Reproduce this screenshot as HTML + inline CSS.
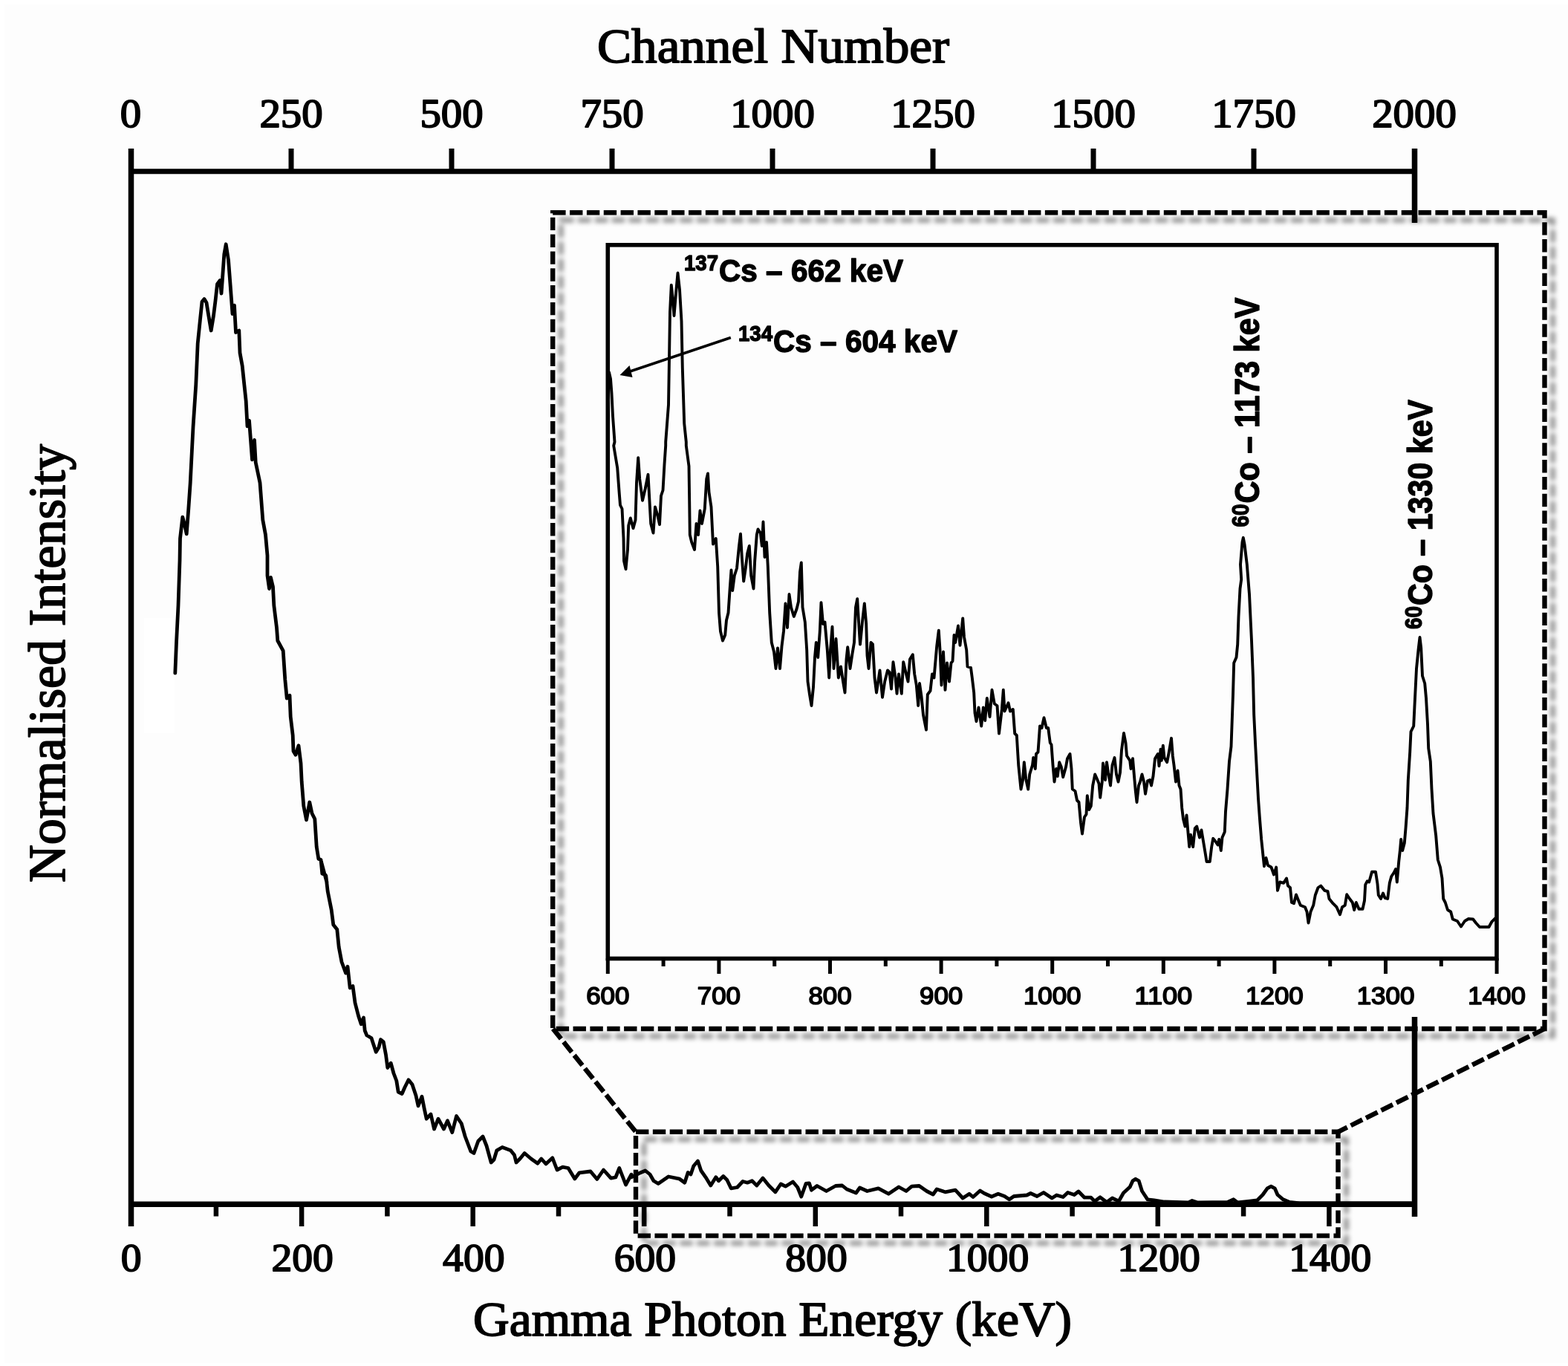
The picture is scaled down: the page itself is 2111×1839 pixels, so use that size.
<!DOCTYPE html>
<html lang="en"><head><meta charset="utf-8"><title>Gamma spectrum</title>
<style>html,body{margin:0;padding:0;background:#fdfdfd;}body{width:2111px;height:1839px;overflow:hidden;}svg{display:block;}.s{font-family:'Liberation Serif', serif;fill:#000;stroke:#000;stroke-width:1.8px;stroke-linejoin:round;}.b{font-family:'Liberation Sans', sans-serif;font-weight:bold;fill:#000;stroke:#000;stroke-width:1.4px;stroke-linejoin:round;}.t{font-weight:normal;stroke-width:1.7px;}</style></head><body>
<svg width="2111" height="1839" viewBox="0 0 2111 1839">
<defs><filter id="sh" filterUnits="userSpaceOnUse" x="700" y="250" width="1411" height="1480"><feGaussianBlur in="SourceAlpha" stdDeviation="3.1" result="b"/><feOffset in="b" dx="10.5" dy="10.3" result="ob"/><feComponentTransfer in="ob" result="sb"><feFuncA type="linear" slope="0.44"/></feComponentTransfer><feMerge><feMergeNode in="sb"/><feMergeNode in="SourceGraphic"/></feMerge></filter></defs>
<rect x="0" y="0" width="2111" height="1839" fill="#ffffff"/>
<rect x="6" y="6" width="2105" height="1829" fill="#fdfdfd"/>
<rect x="194" y="832" width="41" height="155" fill="#ffffff"/>
<g stroke="#000" fill="none" stroke-linecap="butt">
<line x1="176.5" y1="200" x2="176.5" y2="1651" stroke-width="7.5"/>
<line x1="173" y1="230.8" x2="1908" y2="230.8" stroke-width="7"/>
<line x1="173" y1="1621.3" x2="1908" y2="1621.3" stroke-width="7.5"/>
<line x1="1904.5" y1="200" x2="1904.5" y2="1638" stroke-width="7.5"/>
<line x1="392.0" y1="200" x2="392.0" y2="231" stroke-width="7"/>
<line x1="608.0" y1="200" x2="608.0" y2="231" stroke-width="7"/>
<line x1="824.0" y1="200" x2="824.0" y2="231" stroke-width="7"/>
<line x1="1040.0" y1="200" x2="1040.0" y2="231" stroke-width="7"/>
<line x1="1256.0" y1="200" x2="1256.0" y2="231" stroke-width="7"/>
<line x1="1472.0" y1="200" x2="1472.0" y2="231" stroke-width="7"/>
<line x1="1688.0" y1="200" x2="1688.0" y2="231" stroke-width="7"/>
<line x1="290.9" y1="1621" x2="290.9" y2="1637.5" stroke-width="6.5"/>
<line x1="406.1" y1="1621" x2="406.1" y2="1651" stroke-width="6.5"/>
<line x1="521.4" y1="1621" x2="521.4" y2="1637.5" stroke-width="6.5"/>
<line x1="636.7" y1="1621" x2="636.7" y2="1651" stroke-width="6.5"/>
<line x1="752.0" y1="1621" x2="752.0" y2="1637.5" stroke-width="6.5"/>
<line x1="867.2" y1="1621" x2="867.2" y2="1651" stroke-width="6.5"/>
<line x1="982.5" y1="1621" x2="982.5" y2="1637.5" stroke-width="6.5"/>
<line x1="1097.8" y1="1621" x2="1097.8" y2="1651" stroke-width="6.5"/>
<line x1="1213.0" y1="1621" x2="1213.0" y2="1637.5" stroke-width="6.5"/>
<line x1="1328.3" y1="1621" x2="1328.3" y2="1651" stroke-width="6.5"/>
<line x1="1443.6" y1="1621" x2="1443.6" y2="1637.5" stroke-width="6.5"/>
<line x1="1558.8" y1="1621" x2="1558.8" y2="1651" stroke-width="6.5"/>
<line x1="1674.1" y1="1621" x2="1674.1" y2="1637.5" stroke-width="6.5"/>
<line x1="1789.4" y1="1621" x2="1789.4" y2="1651" stroke-width="6.5"/>
</g>
<text class="s" x="176.0" y="171" font-size="55" text-anchor="middle" textLength="28.4" lengthAdjust="spacingAndGlyphs">0</text>
<text class="s" x="392.0" y="171" font-size="55" text-anchor="middle" textLength="85.2" lengthAdjust="spacingAndGlyphs">250</text>
<text class="s" x="608.0" y="171" font-size="55" text-anchor="middle" textLength="85.2" lengthAdjust="spacingAndGlyphs">500</text>
<text class="s" x="824.0" y="171" font-size="55" text-anchor="middle" textLength="85.2" lengthAdjust="spacingAndGlyphs">750</text>
<text class="s" x="1040.0" y="171" font-size="55" text-anchor="middle" textLength="113.6" lengthAdjust="spacingAndGlyphs">1000</text>
<text class="s" x="1256.0" y="171" font-size="55" text-anchor="middle" textLength="113.6" lengthAdjust="spacingAndGlyphs">1250</text>
<text class="s" x="1472.0" y="171" font-size="55" text-anchor="middle" textLength="113.6" lengthAdjust="spacingAndGlyphs">1500</text>
<text class="s" x="1688.0" y="171" font-size="55" text-anchor="middle" textLength="113.6" lengthAdjust="spacingAndGlyphs">1750</text>
<text class="s" x="1904.0" y="171" font-size="55" text-anchor="middle" textLength="113.6" lengthAdjust="spacingAndGlyphs">2000</text>
<text class="s" x="176.6" y="1710.8" font-size="53.3" text-anchor="middle" textLength="27.8" lengthAdjust="spacingAndGlyphs">0</text>
<text class="s" x="407.2" y="1710.8" font-size="53.3" text-anchor="middle" textLength="83.4" lengthAdjust="spacingAndGlyphs">200</text>
<text class="s" x="637.8" y="1710.8" font-size="53.3" text-anchor="middle" textLength="83.4" lengthAdjust="spacingAndGlyphs">400</text>
<text class="s" x="868.4" y="1710.8" font-size="53.3" text-anchor="middle" textLength="83.4" lengthAdjust="spacingAndGlyphs">600</text>
<text class="s" x="1099.0" y="1710.8" font-size="53.3" text-anchor="middle" textLength="83.4" lengthAdjust="spacingAndGlyphs">800</text>
<text class="s" x="1329.6" y="1710.8" font-size="53.3" text-anchor="middle" textLength="111.2" lengthAdjust="spacingAndGlyphs">1000</text>
<text class="s" x="1560.2" y="1710.8" font-size="53.3" text-anchor="middle" textLength="111.2" lengthAdjust="spacingAndGlyphs">1200</text>
<text class="s" x="1790.8" y="1710.8" font-size="53.3" text-anchor="middle" textLength="111.2" lengthAdjust="spacingAndGlyphs">1400</text>
<text class="s" x="804" y="84.2" font-size="66.5" textLength="474" lengthAdjust="spacingAndGlyphs">Channel Number</text>
<text class="s" x="637" y="1798" font-size="66" textLength="806" lengthAdjust="spacingAndGlyphs">Gamma Photon Energy (keV)</text>
<text class="s" transform="translate(87.3,1188) rotate(-90)" x="0" y="0" font-size="70.5" textLength="590" lengthAdjust="spacingAndGlyphs">Normalised Intensity</text>
<polyline points="235.8,906.2 237.5,865.0 240.0,815.0 242.0,755.0 242.5,725.0 245.8,696.2 248.2,705.0 251.2,718.8 253.8,685.0 256.2,650.0 260.0,575.0 263.8,517.5 266.2,462.5 269.5,430.0 272.0,406.2 275.0,402.5 278.0,407.5 280.0,420.0 284.2,445.0 287.5,425.0 290.0,405.0 292.5,382.5 296.2,377.5 298.0,395.0 299.5,375.0 301.8,342.5 304.2,328.8 307.5,350.0 310.0,382.5 313.0,422.5 315.5,411.2 317.5,447.5 321.8,445.0 323.0,475.0 326.2,492.5 328.8,517.5 331.2,540.0 333.0,573.8 335.5,566.2 339.5,618.8 342.5,592.5 344.2,622.5 350.0,650.0 353.8,700.0 357.5,720.0 360.0,748.0 360.0,775.0 362.5,792.5 364.5,777.5 367.5,790.0 368.8,815.0 372.5,845.0 373.8,862.5 381.2,876.2 383.8,915.0 386.2,940.0 390.0,936.2 391.2,965.0 394.2,990.0 395.0,1011.2 398.0,1016.2 402.0,1003.8 405.0,1027.5 406.2,1052.5 408.8,1085.0 412.5,1103.8 416.8,1080.0 420.0,1095.0 423.8,1102.5 426.2,1140.0 428.8,1156.2 432.0,1157.5 433.8,1176.2 438.0,1177.5 440.0,1188.0 432.5,1160.0 433.8,1175.0 438.8,1178.8 441.2,1200.0 446.2,1225.0 448.8,1245.0 453.8,1251.2 456.2,1275.0 460.0,1295.0 465.5,1310.0 468.0,1301.2 471.2,1330.0 475.0,1327.5 478.0,1350.0 482.5,1367.5 486.2,1378.8 489.5,1370.0 491.2,1387.5 493.8,1393.8 500.0,1397.5 506.2,1416.2 510.0,1410.0 512.5,1399.5 516.2,1402.5 519.5,1420.0 521.8,1437.5 526.2,1431.2 530.0,1445.0 533.8,1455.0 536.2,1470.0 541.2,1472.5 545.0,1463.8 550.0,1453.8 555.0,1460.0 560.0,1475.0 563.0,1488.8 568.0,1476.2 571.2,1492.5 574.2,1506.2 580.0,1500.0 584.5,1520.0 590.0,1506.2 597.5,1520.0 602.5,1508.8 608.8,1524.5 614.5,1502.5 621.2,1512.5 626.2,1530.0 633.8,1550.0 638.0,1552.5 643.8,1536.2 650.0,1530.0 655.0,1542.5 661.2,1565.0 665.0,1561.2 668.8,1548.8 676.2,1544.5 687.5,1548.8 692.5,1555.0 695.0,1565.0 700.0,1560.0 706.2,1552.5 715.0,1560.0 723.8,1566.2 728.8,1560.0 735.0,1567.0 743.8,1558.8 750.0,1575.0 757.5,1571.2 765.0,1572.5 773.8,1587.0 780.0,1578.8 795.0,1577.0 803.8,1587.5 812.5,1575.0 822.5,1586.2 828.8,1585.0 833.8,1572.5 842.5,1595.0 850.0,1581.2 850.0,1584.8 860.0,1579.8 868.8,1576.0 875.0,1581.0 880.0,1589.8 886.2,1593.5 900.0,1584.0 915.0,1587.2 921.8,1592.2 926.2,1578.5 930.0,1581.0 933.8,1569.8 939.5,1563.0 943.8,1576.0 950.0,1584.8 956.8,1596.0 963.8,1584.8 967.5,1589.8 973.8,1583.5 978.8,1588.5 984.2,1599.8 992.5,1598.5 1000.0,1590.5 1006.2,1592.2 1012.5,1589.8 1018.8,1596.0 1027.0,1586.0 1035.0,1596.0 1043.8,1604.8 1051.2,1594.0 1057.5,1597.2 1067.5,1591.0 1073.8,1598.5 1078.8,1611.0 1085.0,1593.5 1089.5,1593.0 1092.5,1602.2 1100.0,1596.5 1112.5,1603.5 1125.0,1596.5 1133.8,1596.0 1140.0,1601.0 1152.5,1606.0 1157.5,1599.0 1167.5,1603.5 1182.5,1599.8 1196.2,1607.2 1210.0,1598.0 1220.0,1603.5 1227.5,1597.2 1237.5,1596.5 1247.5,1603.5 1256.2,1608.0 1261.2,1601.0 1272.5,1604.8 1286.2,1602.2 1296.2,1613.0 1305.0,1607.2 1310.0,1611.5 1319.5,1603.0 1325.0,1606.5 1335.0,1611.0 1343.8,1607.2 1352.5,1610.5 1358.8,1614.8 1365.0,1610.5 1382.5,1609.0 1387.5,1606.5 1396.2,1610.5 1405.0,1605.5 1416.2,1613.0 1422.5,1609.0 1431.2,1611.5 1437.5,1605.5 1446.2,1608.5 1452.0,1604.0 1460.0,1612.2 1468.8,1612.2 1473.8,1617.2 1481.2,1611.8 1490.0,1618.5 1497.5,1613.0 1506.2,1617.2 1512.5,1606.0 1521.2,1598.0 1525.0,1589.8 1528.8,1587.2 1533.2,1589.8 1537.5,1603.5 1545.0,1614.8 1553.8,1616.0 1567.5,1618.0 1600.0,1619.0 1605.0,1616.5 1612.5,1619.0 1652.5,1618.5 1660.8,1614.8 1666.2,1619.0 1682.5,1617.2 1692.5,1616.0 1700.0,1608.5 1706.2,1599.8 1711.2,1597.2 1716.2,1599.8 1720.0,1608.5 1727.5,1614.8 1736.2,1618.5 1750.0,1619.8 1800.0,1620.0 1900.0,1620.0" fill="none" stroke="#000" stroke-width="4.8" stroke-linejoin="round" stroke-linecap="round"/>
<rect x="760" y="300" width="1310" height="1069" fill="#fdfdfd"/>
<g stroke="#000" fill="none">
<rect x="818.3" y="329.8" width="1196.7" height="960.7" stroke-width="5.6"/>
<line x1="818.3" y1="1290" x2="818.3" y2="1311" stroke-width="5"/>
<line x1="893.1" y1="1290" x2="893.1" y2="1301" stroke-width="5"/>
<line x1="967.9" y1="1290" x2="967.9" y2="1311" stroke-width="5"/>
<line x1="1042.7" y1="1290" x2="1042.7" y2="1301" stroke-width="5"/>
<line x1="1117.5" y1="1290" x2="1117.5" y2="1311" stroke-width="5"/>
<line x1="1192.3" y1="1290" x2="1192.3" y2="1301" stroke-width="5"/>
<line x1="1267.1" y1="1290" x2="1267.1" y2="1311" stroke-width="5"/>
<line x1="1341.9" y1="1290" x2="1341.9" y2="1301" stroke-width="5"/>
<line x1="1416.7" y1="1290" x2="1416.7" y2="1311" stroke-width="5"/>
<line x1="1491.5" y1="1290" x2="1491.5" y2="1301" stroke-width="5"/>
<line x1="1566.3" y1="1290" x2="1566.3" y2="1311" stroke-width="5"/>
<line x1="1641.1" y1="1290" x2="1641.1" y2="1301" stroke-width="5"/>
<line x1="1715.9" y1="1290" x2="1715.9" y2="1311" stroke-width="5"/>
<line x1="1790.7" y1="1290" x2="1790.7" y2="1301" stroke-width="5"/>
<line x1="1865.5" y1="1290" x2="1865.5" y2="1311" stroke-width="5"/>
<line x1="1940.3" y1="1290" x2="1940.3" y2="1301" stroke-width="5"/>
<line x1="2015.1" y1="1290" x2="2015.1" y2="1311" stroke-width="5"/>
</g>
<text class="b t" x="818.3" y="1351.5" font-size="33.5" text-anchor="middle" textLength="58.2" lengthAdjust="spacingAndGlyphs">600</text>
<text class="b t" x="967.9" y="1351.5" font-size="33.5" text-anchor="middle" textLength="58.2" lengthAdjust="spacingAndGlyphs">700</text>
<text class="b t" x="1117.5" y="1351.5" font-size="33.5" text-anchor="middle" textLength="58.2" lengthAdjust="spacingAndGlyphs">800</text>
<text class="b t" x="1267.1" y="1351.5" font-size="33.5" text-anchor="middle" textLength="58.2" lengthAdjust="spacingAndGlyphs">900</text>
<text class="b t" x="1416.7" y="1351.5" font-size="33.5" text-anchor="middle" textLength="77.6" lengthAdjust="spacingAndGlyphs">1000</text>
<text class="b t" x="1566.3" y="1351.5" font-size="33.5" text-anchor="middle" textLength="77.6" lengthAdjust="spacingAndGlyphs">1100</text>
<text class="b t" x="1715.9" y="1351.5" font-size="33.5" text-anchor="middle" textLength="77.6" lengthAdjust="spacingAndGlyphs">1200</text>
<text class="b t" x="1865.5" y="1351.5" font-size="33.5" text-anchor="middle" textLength="77.6" lengthAdjust="spacingAndGlyphs">1300</text>
<text class="b t" x="2015.1" y="1351.5" font-size="33.5" text-anchor="middle" textLength="77.6" lengthAdjust="spacingAndGlyphs">1400</text>
<polyline points="820.0,501.2 822.0,510.0 823.5,530.0 825.0,560.0 827.5,595.0 826.2,600.0 831.2,630.0 833.8,665.0 835.0,680.0 837.5,685.0 839.5,725.0 840.0,755.0 842.5,766.2 845.0,740.0 846.2,707.5 848.8,697.5 852.5,711.2 855.5,700.0 857.0,650.0 859.2,616.2 861.2,645.0 865.0,673.8 868.8,657.5 872.5,638.8 874.5,675.0 876.2,705.0 879.5,717.5 882.0,682.5 885.0,692.5 888.0,706.2 890.0,667.5 892.5,660.0 894.5,625.0 896.2,600.0 896.2,595.0 900.0,545.0 901.2,470.0 902.0,420.0 903.8,383.8 905.5,400.0 907.5,425.0 910.0,395.0 912.5,367.5 915.0,390.0 917.5,432.5 918.8,495.0 921.2,570.0 923.8,595.0 923.8,600.0 927.5,627.5 928.2,675.0 928.8,720.0 931.2,730.0 935.0,740.0 937.5,705.0 940.0,720.0 942.5,687.5 945.0,705.0 948.8,685.0 951.2,645.0 953.0,637.5 954.5,662.5 957.5,682.5 960.0,732.5 963.8,725.0 966.2,762.5 968.0,825.0 970.0,850.0 973.0,862.5 976.2,855.0 978.0,835.0 980.5,825.0 982.5,795.0 984.5,767.5 986.2,795.0 988.8,775.0 992.0,765.0 995.0,735.0 997.0,718.8 998.8,750.0 1001.2,782.5 1003.8,765.0 1006.2,745.0 1008.8,735.0 1011.2,775.0 1014.5,792.5 1016.2,755.0 1018.8,720.0 1020.5,712.5 1023.8,717.5 1025.8,735.0 1027.5,702.5 1029.5,750.0 1032.0,730.0 1033.8,762.5 1036.2,825.0 1038.8,865.0 1042.0,877.5 1044.5,900.0 1047.0,872.5 1050.0,900.0 1052.5,870.0 1055.0,850.0 1057.5,812.5 1060.0,845.0 1062.5,800.0 1065.0,817.5 1068.8,830.0 1072.5,820.0 1075.0,810.0 1077.0,770.0 1078.8,757.5 1080.5,817.5 1083.8,837.5 1086.2,875.0 1087.5,917.5 1090.0,935.0 1092.5,950.0 1095.0,925.0 1097.0,885.0 1098.8,865.0 1101.2,885.0 1103.8,850.0 1105.5,811.2 1108.0,840.0 1110.5,837.5 1113.8,875.0 1116.2,912.5 1118.0,875.0 1120.5,843.8 1122.5,900.0 1125.5,860.0 1128.8,912.5 1132.0,897.5 1135.0,917.5 1137.5,932.5 1139.5,887.5 1141.2,871.2 1144.5,900.0 1147.5,880.0 1150.0,865.0 1152.0,817.5 1154.2,806.2 1156.2,840.0 1158.0,867.5 1161.2,835.0 1163.8,812.5 1166.2,840.0 1167.5,882.5 1169.5,900.0 1172.5,865.0 1175.0,867.5 1177.5,912.5 1180.0,932.5 1184.5,902.5 1188.0,938.8 1191.2,917.5 1195.0,902.5 1197.5,905.0 1200.0,927.5 1202.5,891.2 1205.5,912.5 1207.5,933.8 1210.0,907.5 1213.8,933.8 1216.2,891.2 1220.0,907.5 1222.5,917.5 1225.0,887.5 1228.8,881.2 1231.2,907.5 1233.8,922.5 1236.2,950.0 1238.0,920.0 1240.5,937.5 1243.0,962.5 1247.0,982.5 1248.8,935.0 1252.5,930.0 1255.0,907.5 1257.5,912.5 1261.2,870.0 1263.8,848.8 1265.5,875.0 1267.5,922.5 1270.0,877.5 1272.5,928.8 1275.0,892.5 1278.0,917.5 1280.5,892.5 1282.5,890.0 1284.5,855.0 1286.2,865.0 1290.0,842.5 1292.5,868.8 1296.2,832.5 1298.0,857.5 1301.2,875.0 1302.5,897.5 1307.0,898.8 1308.8,912.5 1311.2,932.5 1312.5,960.0 1314.5,971.2 1317.5,952.5 1321.2,977.5 1323.8,952.5 1326.2,970.0 1328.8,940.0 1332.5,965.0 1335.5,928.8 1338.8,947.5 1342.5,950.0 1345.0,987.5 1348.8,955.0 1350.8,928.8 1352.5,957.5 1357.5,946.2 1360.0,957.5 1363.8,955.0 1366.2,987.5 1368.8,990.0 1371.2,1030.0 1374.5,1062.5 1377.0,1050.0 1378.8,1026.2 1381.2,1048.8 1384.2,1062.5 1386.2,1042.5 1390.0,1030.0 1391.2,1020.0 1393.8,1035.0 1395.0,1015.0 1397.5,1012.5 1400.0,977.5 1402.5,980.0 1405.5,966.2 1408.8,980.0 1411.2,980.0 1413.8,1000.0 1415.5,1002.5 1417.5,1030.0 1419.5,1052.5 1422.0,1035.0 1423.8,1045.0 1426.2,1026.2 1428.8,1032.5 1431.2,1046.2 1435.0,1032.5 1437.0,1021.2 1440.5,1015.0 1442.5,1035.0 1443.8,1062.5 1447.5,1065.0 1450.0,1077.5 1452.5,1080.0 1455.0,1107.5 1457.0,1122.5 1460.0,1100.0 1462.5,1096.2 1463.8,1071.2 1466.2,1090.0 1468.8,1085.0 1471.2,1057.5 1474.2,1042.5 1477.5,1050.0 1479.5,1055.0 1481.2,1073.8 1483.8,1052.5 1485.0,1027.5 1488.0,1050.0 1490.0,1026.2 1492.0,1040.0 1495.0,1057.5 1497.5,1030.0 1500.5,1020.0 1503.0,1042.5 1505.5,1052.5 1508.0,1040.0 1510.0,1010.0 1513.0,987.0 1515.5,1000.0 1517.0,1017.5 1521.2,1023.8 1522.5,1035.0 1525.0,1021.2 1527.0,1045.0 1528.8,1065.0 1530.5,1080.0 1533.0,1057.5 1535.0,1052.5 1537.5,1042.5 1540.0,1052.5 1542.0,1068.8 1545.0,1051.2 1548.0,1050.0 1550.0,1057.5 1552.5,1045.0 1555.0,1021.2 1558.8,1015.0 1560.5,1031.2 1562.5,1008.8 1563.8,1023.8 1565.8,1003.8 1567.5,1020.0 1571.2,1026.2 1573.8,1012.5 1577.0,993.8 1578.8,1017.5 1580.5,1030.0 1583.0,1052.5 1585.5,1037.5 1587.5,1057.5 1589.5,1062.5 1591.2,1087.5 1593.0,1102.5 1595.5,1112.5 1597.5,1097.5 1599.2,1117.5 1601.2,1140.0 1603.0,1123.8 1606.2,1140.0 1608.8,1115.0 1611.2,1112.5 1615.0,1127.5 1617.5,1117.5 1620.0,1132.5 1622.5,1147.5 1624.5,1160.0 1628.8,1160.0 1631.2,1140.0 1633.2,1128.8 1636.2,1132.5 1639.5,1137.5 1641.2,1130.0 1643.8,1145.0 1645.5,1127.5 1648.8,1120.0 1650.0,1092.5 1652.5,1062.5 1655.0,1025.0 1657.5,1005.0 1660.0,935.0 1661.2,892.5 1664.5,885.0 1666.2,867.5 1667.5,830.0 1669.5,792.5 1671.2,780.0 1670.0,760.0 1672.5,730.0 1673.8,723.8 1675.5,732.5 1678.8,760.0 1682.0,800.0 1683.2,825.0 1685.0,862.5 1687.0,912.5 1688.2,962.5 1690.0,1000.0 1692.0,1037.5 1694.0,1075.0 1695.8,1100.0 1698.2,1130.0 1700.8,1155.0 1702.0,1166.2 1704.5,1155.0 1707.0,1165.0 1711.5,1167.5 1715.0,1177.5 1718.2,1167.5 1720.0,1198.8 1723.2,1187.5 1728.2,1188.8 1732.0,1182.5 1734.0,1192.5 1737.0,1195.0 1739.0,1215.0 1742.0,1216.2 1745.0,1204.5 1748.2,1212.5 1750.8,1218.8 1757.0,1221.2 1759.5,1227.5 1761.5,1242.5 1764.5,1227.5 1768.2,1218.8 1770.8,1205.0 1774.5,1195.0 1778.2,1192.5 1783.2,1198.8 1787.5,1200.0 1789.5,1210.0 1794.5,1216.2 1799.5,1221.2 1804.0,1231.2 1807.0,1221.2 1810.8,1218.8 1813.2,1204.2 1817.0,1210.0 1820.8,1215.0 1823.2,1225.0 1825.8,1215.0 1829.5,1223.8 1834.5,1223.8 1837.0,1212.5 1838.2,1191.2 1840.8,1186.2 1843.2,1187.5 1847.0,1173.8 1852.0,1173.8 1854.5,1190.0 1855.8,1205.0 1859.0,1210.0 1862.0,1202.5 1864.5,1208.8 1868.2,1210.0 1870.8,1188.8 1873.2,1180.0 1876.5,1175.0 1879.0,1170.0 1880.8,1187.5 1883.2,1160.0 1885.0,1143.8 1886.2,1130.0 1888.2,1145.0 1890.8,1135.0 1892.5,1115.0 1894.5,1087.5 1895.8,1050.0 1898.2,1012.5 1899.5,985.0 1903.2,977.5 1904.5,950.0 1907.0,900.0 1909.5,875.0 1911.5,858.0 1913.2,872.5 1915.0,910.0 1918.2,920.0 1920.0,940.0 1922.0,975.0 1923.2,1007.5 1925.8,1025.0 1927.5,1062.5 1929.5,1095.0 1933.2,1125.0 1935.8,1157.5 1939.0,1167.5 1941.5,1182.5 1943.2,1210.0 1945.8,1215.0 1949.0,1225.0 1953.2,1227.5 1955.8,1237.5 1962.0,1240.0 1967.0,1247.5 1972.0,1240.0 1977.0,1237.0 1983.2,1237.5 1987.0,1242.5 1992.0,1248.0 2004.5,1248.0 2008.2,1241.2 2013.2,1236.2" fill="none" stroke="#000" stroke-width="3.9" stroke-linejoin="round" stroke-linecap="round"/>
<text class="b" x="921" y="363.8" font-size="29.5" textLength="46" lengthAdjust="spacingAndGlyphs">137</text>
<text class="b" x="968" y="378.8" font-size="43.3" textLength="248" lengthAdjust="spacingAndGlyphs">Cs – 662 keV</text>
<text class="b" x="994" y="458.5" font-size="29.5" textLength="46" lengthAdjust="spacingAndGlyphs">134</text>
<text class="b" x="1041" y="473.8" font-size="43.3" textLength="248" lengthAdjust="spacingAndGlyphs">Cs – 604 keV</text>
<g transform="translate(1694.5,709.5) rotate(-90)"><text class="b" x="0" y="-14" font-size="32" textLength="31" lengthAdjust="spacingAndGlyphs">60</text><text class="b" x="32" y="0" font-size="46" textLength="277" lengthAdjust="spacingAndGlyphs">Co – 1173 keV</text></g>
<g transform="translate(1928.3,847) rotate(-90)"><text class="b" x="0" y="-14" font-size="32" textLength="31" lengthAdjust="spacingAndGlyphs">60</text><text class="b" x="32" y="0" font-size="46" textLength="277" lengthAdjust="spacingAndGlyphs">Co – 1330 keV</text></g>
<line x1="983.8" y1="454.5" x2="846" y2="500.8" stroke="#000" stroke-width="3.6"/>
<polygon points="834.5,505 847.5,492 851.5,508" fill="#000"/>
<g filter="url(#sh)" stroke="#000" fill="none" stroke-width="6.4" stroke-dasharray="17.4 5.45">
<rect x="744.2" y="286.3" width="1335.3" height="1098.7"/>
<rect x="856" y="1523.8" width="945.5" height="139.8"/>
</g>
<g stroke="#000" fill="none" stroke-width="6.4" stroke-dasharray="17.4 5.45">
<line x1="744.5" y1="1385" x2="856" y2="1523.8"/>
<line x1="2079.5" y1="1385" x2="1801.5" y2="1523.8"/>
</g>
</svg></body></html>
